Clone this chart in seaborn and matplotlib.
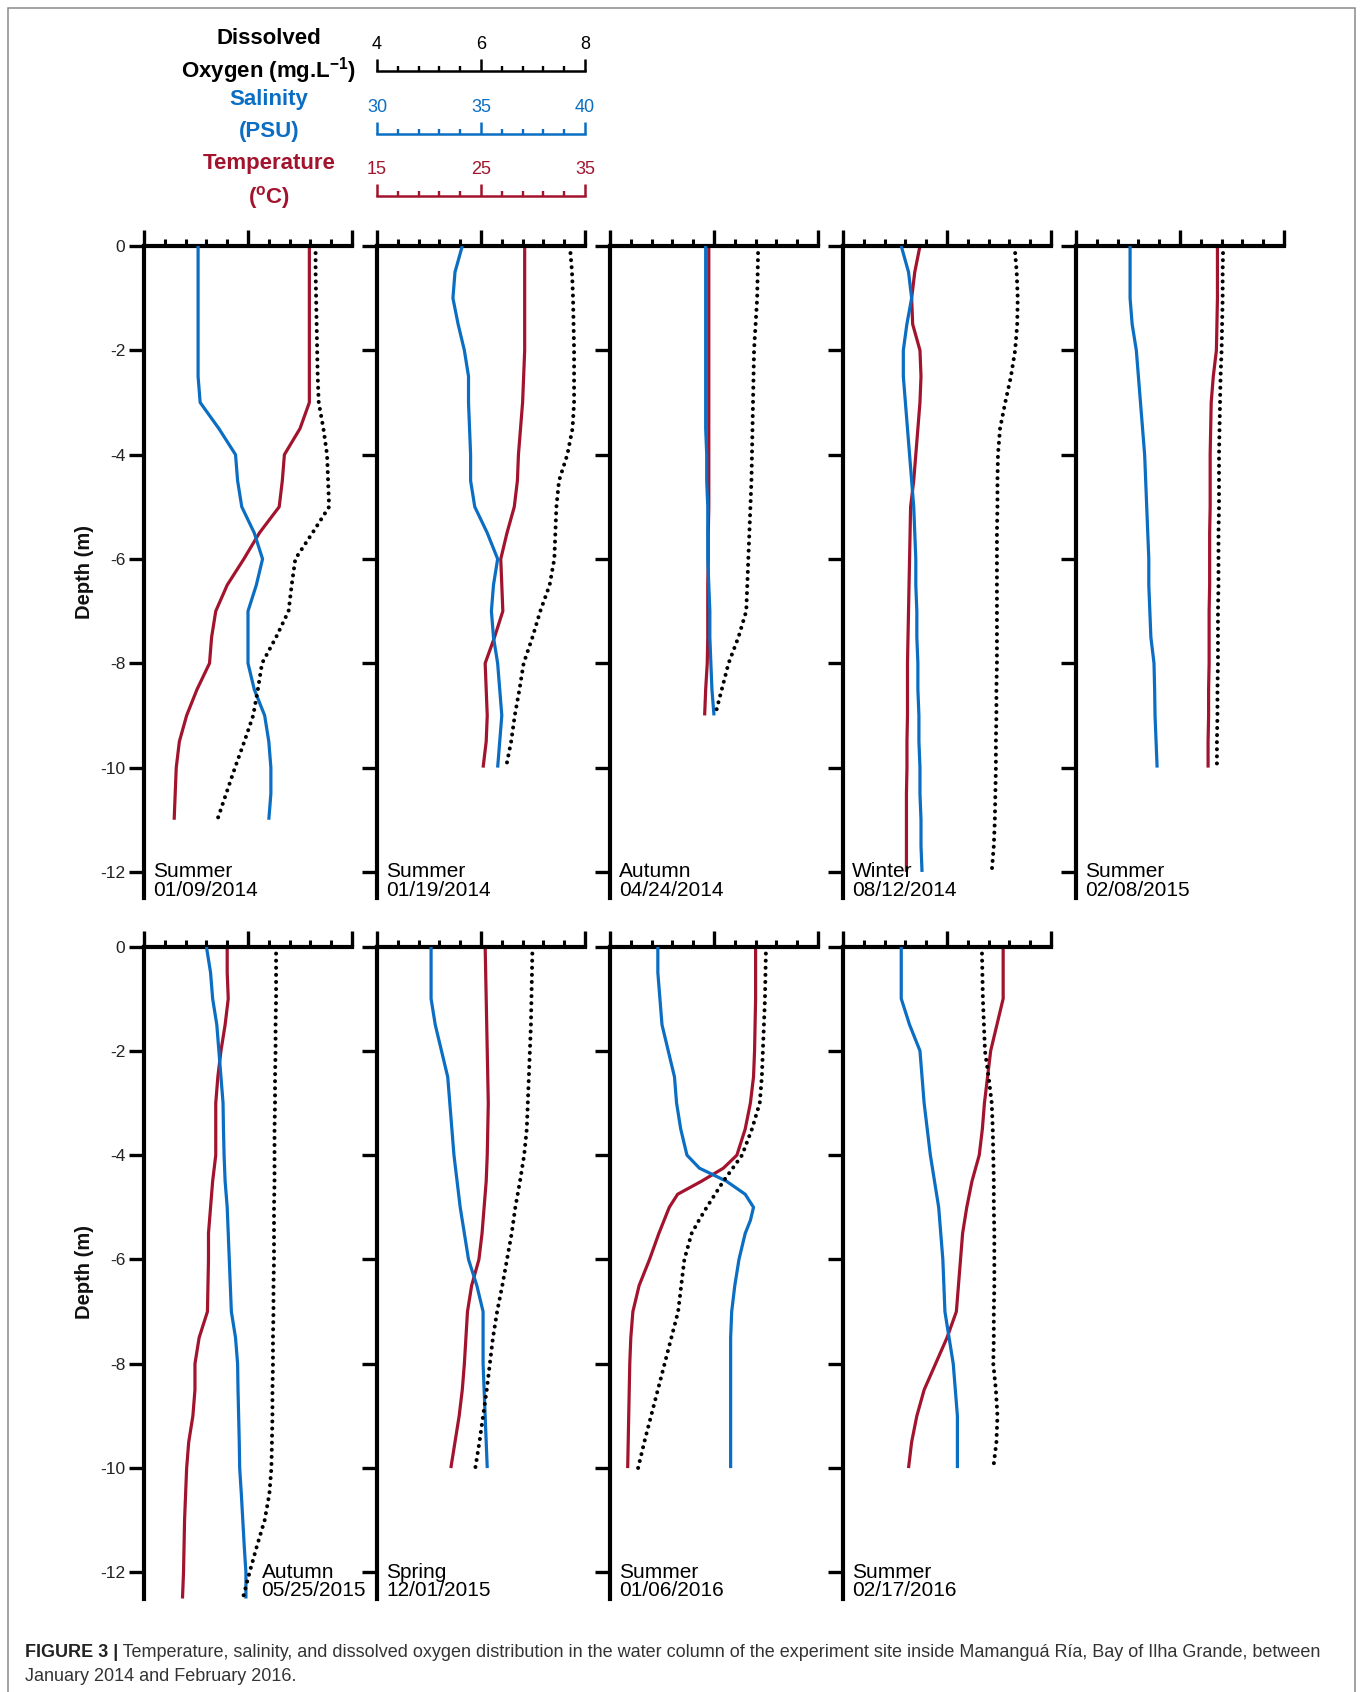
import numpy as np
import pandas as pd
import matplotlib
matplotlib.use("Agg")
import matplotlib.pyplot as plt
from matplotlib import font_manager
from matplotlib.font_manager import FontProperties
from matplotlib.patches import Rectangle
from matplotlib.ticker import FixedLocator
import seaborn as sns

# ---------------------------------------------------------------- data
SEASONS = ["Summer", "Summer", "Autumn", "Winter", "Summer",
           "Autumn", "Spring", "Summer", "Summer"]
DATES = ["01/09/2014", "01/19/2014", "04/24/2014", "08/12/2014", "02/08/2015",
         "05/25/2015", "12/01/2015", "01/06/2016", "02/17/2016"]

DEPTH_TICKS = [0, -2, -4, -6, -8, -10, -12]
DEPTH_TICK_LABELS = ["0", "-2", "-4", "-6", "-8", "-10", "-12"]

OXY_TICKS = [4, 6, 8]
SAL_TICKS = [30, 35, 40]
TEMP_TICKS = [15, 25, 35]

# Panel 1 - Summer 01/09/2014
DEPTH_1 = [0, -0.5, -1, -1.5, -2, -2.5, -3, -3.5, -4, -4.5, -5, -5.5, -6, -6.5,
           -7, -7.5, -8, -8.5, -9, -9.5, -10, -10.5, -11]
TEMP_1 = [30.9, 30.9, 30.9, 30.9, 30.9, 30.9, 30.9, 30.0, 28.5, 28.3, 28.0, 26.1,
          24.6, 23.0, 21.9, 21.5, 21.3, 20.1, 19.1, 18.4, 18.1, 18.0, 17.9]
SAL_1 = [32.6, 32.6, 32.6, 32.6, 32.6, 32.6, 32.7, 33.6, 34.4, 34.5, 34.7, 35.3,
         35.7, 35.4, 35.0, 35.0, 35.0, 35.3, 35.8, 36.0, 36.1, 36.1, 36.0]
OXY_1 = [7.30, 7.30, 7.31, 7.32, 7.33, 7.34, 7.36, 7.45, 7.52, 7.54, 7.56, 7.24,
         6.91, 6.84, 6.78, 6.54, 6.27, 6.19, 6.10, 5.93, 5.75, 5.58, 5.41]

# Panel 2 - Summer 01/19/2014
DEPTH_2 = [0, -0.5, -1, -1.5, -2, -2.5, -3, -3.5, -4, -4.5, -5, -5.5, -6, -6.5,
           -7, -7.5, -8, -8.5, -9, -9.5, -10]
TEMP_2 = [29.2, 29.2, 29.2, 29.2, 29.2, 29.1, 29.0, 28.8, 28.6, 28.5, 28.2, 27.5,
          26.9, 27.0, 27.1, 26.3, 25.4, 25.5, 25.6, 25.5, 25.2]
SAL_2 = [34.1, 33.75, 33.65, 33.9, 34.2, 34.4, 34.4, 34.45, 34.5, 34.5, 34.7, 35.3,
         35.8, 35.6, 35.5, 35.6, 35.8, 35.9, 36.0, 35.9, 35.8]
OXY_2 = [7.71, 7.75, 7.77, 7.78, 7.79, 7.79, 7.79, 7.76, 7.66, 7.50, 7.45, 7.43,
         7.41, 7.32, 7.14, 6.99, 6.82, 6.74, 6.65, 6.58, 6.48]

# Panel 3 - Autumn 04/24/2014
DEPTH_3 = [0, -0.5, -1, -1.5, -2, -2.5, -3, -3.5, -4, -4.5, -5, -5.5, -6, -6.5,
           -7, -7.5, -8, -8.5, -9]
TEMP_3 = [24.5, 24.5, 24.5, 24.5, 24.5, 24.5, 24.5, 24.5, 24.5, 24.5, 24.5, 24.45,
          24.45, 24.4, 24.4, 24.4, 24.35, 24.2, 24.1]
SAL_3 = [34.6, 34.6, 34.6, 34.6, 34.6, 34.6, 34.6, 34.6, 34.65, 34.65, 34.7, 34.7,
         34.7, 34.75, 34.8, 34.8, 34.85, 34.9, 35.0]
OXY_3 = [6.85, 6.84, 6.83, 6.80, 6.77, 6.76, 6.75, 6.74, 6.73, 6.72, 6.70, 6.68,
         6.66, 6.64, 6.62, 6.47, 6.28, 6.15, 6.02]

# Panel 4 - Winter 08/12/2014
DEPTH_4 = [0, -0.5, -1, -1.5, -2, -2.5, -3, -3.5, -4, -4.5, -5, -5.5, -6, -6.5,
           -7, -7.5, -8, -8.5, -9, -9.5, -10, -10.5, -11, -11.5, -12]
TEMP_4 = [22.4, 21.9, 21.6, 21.7, 22.4, 22.5, 22.4, 22.2, 22.0, 21.8, 21.5, 21.45,
          21.4, 21.35, 21.3, 21.25, 21.2, 21.2, 21.2, 21.15, 21.15, 21.1, 21.1,
          21.1, 21.1]
SAL_4 = [32.8, 33.15, 33.3, 33.07, 32.9, 32.9, 33.0, 33.1, 33.2, 33.3, 33.4, 33.45,
         33.5, 33.5, 33.55, 33.55, 33.6, 33.6, 33.65, 33.65, 33.7, 33.7, 33.75,
         33.75, 33.8]
OXY_4 = [7.30, 7.34, 7.36, 7.35, 7.31, 7.23, 7.12, 7.02, 6.98, 6.97, 6.97, 6.96,
         6.96, 6.96, 6.96, 6.96, 6.96, 6.95, 6.95, 6.94, 6.94, 6.93, 6.92, 6.90,
         6.86]

# Panel 5 - Summer 02/08/2015
DEPTH_5 = [0, -0.5, -1, -1.5, -2, -2.5, -3, -3.5, -4, -4.5, -5, -5.5, -6, -6.5,
           -7, -7.5, -8, -8.5, -9, -9.5, -10]
TEMP_5 = [28.6, 28.6, 28.6, 28.55, 28.5, 28.2, 28.0, 27.95, 27.9, 27.9, 27.9, 27.85,
          27.85, 27.85, 27.8, 27.8, 27.8, 27.75, 27.75, 27.7, 27.7]
SAL_5 = [32.6, 32.6, 32.6, 32.7, 32.9, 33.0, 33.1, 33.2, 33.3, 33.35, 33.4, 33.45,
         33.5, 33.5, 33.55, 33.6, 33.75, 33.78, 33.8, 33.85, 33.9]
OXY_5 = [6.83, 6.82, 6.82, 6.81, 6.80, 6.78, 6.77, 6.76, 6.75, 6.75, 6.75, 6.74,
         6.74, 6.74, 6.73, 6.73, 6.73, 6.72, 6.72, 6.71, 6.71]

# Panel 6 - Autumn 05/25/2015
DEPTH_6 = [0, -0.5, -1, -1.5, -2, -2.5, -3, -3.5, -4, -4.5, -5, -5.5, -6, -6.5,
           -7, -7.5, -8, -8.5, -9, -9.5, -10, -10.5, -11, -11.5, -12, -12.5]
TEMP_6 = [23.0, 23.0, 23.1, 22.8, 22.4, 22.1, 21.9, 21.9, 21.9, 21.6, 21.4, 21.2,
          21.2, 21.15, 21.1, 20.3, 19.9, 19.9, 19.7, 19.3, 19.1, 19.0, 18.9, 18.85,
          18.8, 18.7]
SAL_6 = [33.0, 33.2, 33.3, 33.5, 33.6, 33.7, 33.8, 33.82, 33.85, 33.9, 34.0, 34.05,
         34.1, 34.15, 34.2, 34.4, 34.5, 34.52, 34.55, 34.58, 34.6, 34.68, 34.75,
         34.82, 34.9, 34.9]
OXY_6 = [6.54, 6.54, 6.54, 6.53, 6.53, 6.52, 6.52, 6.51, 6.51, 6.51, 6.50, 6.50,
         6.50, 6.49, 6.49, 6.48, 6.48, 6.47, 6.47, 6.46, 6.45, 6.41, 6.32, 6.17,
         6.03, 5.90]

# Panel 7 - Spring 12/01/2015
DEPTH_7 = [0, -0.5, -1, -1.5, -2, -2.5, -3, -3.5, -4, -4.5, -5, -5.5, -6, -6.5,
           -7, -7.5, -8, -8.5, -9, -9.5, -10]
TEMP_7 = [25.4, 25.45, 25.5, 25.55, 25.6, 25.65, 25.7, 25.65, 25.6, 25.5, 25.3, 25.1,
          24.8, 24.1, 23.7, 23.55, 23.4, 23.2, 22.9, 22.5, 22.1]
SAL_7 = [32.6, 32.6, 32.6, 32.8, 33.1, 33.4, 33.5, 33.6, 33.7, 33.85, 34.0, 34.2,
         34.4, 34.8, 35.1, 35.1, 35.1, 35.15, 35.2, 35.25, 35.3]
OXY_7 = [6.99, 6.98, 6.97, 6.96, 6.94, 6.92, 6.90, 6.88, 6.83, 6.75, 6.66, 6.59,
         6.50, 6.41, 6.31, 6.23, 6.17, 6.11, 6.04, 5.97, 5.89]

# Panel 8 - Summer 01/06/2016
DEPTH_8 = [0, -0.5, -1, -1.5, -2, -2.5, -3, -3.5, -4, -4.25, -4.5, -4.75, -5, -5.25,
           -5.5, -6, -6.5, -7, -7.5, -8, -8.5, -9, -9.5, -10]
TEMP_8 = [29.0, 29.0, 29.0, 28.95, 28.9, 28.8, 28.5, 28.0, 27.2, 25.9, 23.8, 21.5,
          20.7, 20.2, 19.7, 18.8, 17.8, 17.2, 17.0, 16.9, 16.85, 16.8, 16.75, 16.7]
SAL_8 = [32.3, 32.3, 32.4, 32.5, 32.8, 33.1, 33.2, 33.4, 33.7, 34.3, 35.6, 36.5,
         36.9, 36.75, 36.5, 36.2, 36.0, 35.85, 35.8, 35.8, 35.8, 35.8, 35.8, 35.8]
OXY_8 = [7.00, 6.99, 6.98, 6.96, 6.94, 6.92, 6.88, 6.73, 6.54, 6.36, 6.18, 6.02,
         5.86, 5.71, 5.57, 5.43, 5.37, 5.31, 5.18, 5.05, 4.92, 4.79, 4.66, 4.54]

# Panel 9 - Summer 02/17/2016
DEPTH_9 = [0, -0.5, -1, -1.5, -2, -2.5, -3, -3.5, -4, -4.5, -5, -5.5, -6, -6.5,
           -7, -7.5, -8, -8.5, -9, -9.5, -10]
TEMP_9 = [30.4, 30.4, 30.4, 29.8, 29.2, 28.9, 28.6, 28.4, 28.1, 27.4, 26.9, 26.5,
          26.3, 26.1, 25.9, 25.0, 23.9, 22.8, 22.1, 21.6, 21.3]
SAL_9 = [32.8, 32.8, 32.8, 33.2, 33.7, 33.8, 33.9, 34.05, 34.2, 34.4, 34.6, 34.7,
         34.8, 34.85, 34.9, 35.1, 35.3, 35.4, 35.5, 35.5, 35.5]
OXY_9 = [6.67, 6.68, 6.69, 6.71, 6.73, 6.80, 6.86, 6.88, 6.89, 6.90, 6.90, 6.91,
         6.91, 6.91, 6.90, 6.90, 6.89, 6.94, 6.97, 6.95, 6.89]

DEPTHS = [DEPTH_1, DEPTH_2, DEPTH_3, DEPTH_4, DEPTH_5, DEPTH_6, DEPTH_7, DEPTH_8, DEPTH_9]
TEMPS = [TEMP_1, TEMP_2, TEMP_3, TEMP_4, TEMP_5, TEMP_6, TEMP_7, TEMP_8, TEMP_9]
SALS = [SAL_1, SAL_2, SAL_3, SAL_4, SAL_5, SAL_6, SAL_7, SAL_8, SAL_9]
OXYS = [OXY_1, OXY_2, OXY_3, OXY_4, OXY_5, OXY_6, OXY_7, OXY_8, OXY_9]

CAPTION_BOLD = "FIGURE 3 |"
CAPTION_1 = ("Temperature, salinity, and dissolved oxygen distribution in the water "
             "column of the experiment site inside Mamanguá Ría, Bay of Ilha Grande, between")
CAPTION_2 = "January 2014 and February 2016."

# ---------------------------------------------------------------- style
BLUE = "#0B6EC2"
RED = "#A2142D"
sns.set_theme(style="white")
plt.rcParams["font.family"] = ["Liberation Sans", "DejaVu Sans"]
plt.rcParams["axes.unicode_minus"] = False
plt.rcParams["mathtext.fontset"] = "custom"
plt.rcParams["mathtext.rm"] = "Liberation Sans:bold"
plt.rcParams["mathtext.default"] = "rm"


def has_font(name):
    try:
        font_manager.findfont(FontProperties(family=name), fallback_to_default=False)
        return True
    except Exception:
        return False


CAP_FAMILY = ["Liberation Sans Narrow", "Liberation Sans"] if has_font("Liberation Sans Narrow") \
    else ["Liberation Sans", "DejaVu Sans"]

W, H = 1362, 1692
fig = plt.figure(figsize=(W / 100, H / 100), dpi=100)
fig.patch.set_facecolor("white")


def fx(px):
    return px / W


def fy(px):
    return 1 - px / H


# ---------------------------------------------------------------- panels
LEFTS = [144, 377, 610, 843, 1076, 144, 377, 610, 843]
TOPS = [246] * 5 + [946.5] * 4
PW, PH = 208, 652


def draw_panel(i):
    left, top = LEFTS[i], TOPS[i]
    ax = fig.add_axes([fx(left), fy(top + PH), PW / W, PH / H])
    ax.patch.set_visible(False)
    ax_s = ax.twiny()
    ax_o = ax.twiny()
    df = pd.DataFrame({"depth": DEPTHS[i], "temp": TEMPS[i],
                       "sal": SALS[i], "oxy": OXYS[i]})
    sns.lineplot(data=df, x="oxy", y="depth", ax=ax_o, sort=False, estimator=None,
                 color="black", linewidth=2.9, legend=False)
    ln = ax_o.lines[-1]
    ln.set_linestyle((0, (0.01, 1.75)))
    ln.set_dash_capstyle("round")
    sns.lineplot(data=df, x="temp", y="depth", ax=ax, sort=False, estimator=None,
                 color=RED, linewidth=2.3, legend=False)
    ax.lines[-1].set_solid_capstyle("butt")
    ax.lines[-1].set_solid_joinstyle("round")
    sns.lineplot(data=df, x="sal", y="depth", ax=ax_s, sort=False, estimator=None,
                 color=BLUE, linewidth=2.3, legend=False)
    ax_s.lines[-1].set_solid_capstyle("butt")
    ax_s.lines[-1].set_solid_joinstyle("round")

    ax.set_xlim(15, 35)
    ax_s.set_xlim(30, 40)
    ax_o.set_xlim(4, 8)
    ax.set_ylim(-12.5, 0)
    for a in (ax_s, ax_o):
        a.set_axis_off()
    ax.set_xlabel("")
    ax.set_ylabel("")

    for sp in ("right", "bottom"):
        ax.spines[sp].set_visible(False)
    for sp in ("left", "top"):
        ax.spines[sp].set_visible(True)
        ax.spines[sp].set_linewidth(3.0)
        ax.spines[sp].set_color("black")

    ax.xaxis.set_ticks_position("top")
    ax.set_xticks(TEMP_TICKS)
    ax.xaxis.set_minor_locator(FixedLocator([17, 19, 21, 23, 27, 29, 31, 33]))
    ax.tick_params(axis="x", which="major", direction="out", length=11.5, width=2.4,
                   top=True, bottom=False, labeltop=False, labelbottom=False,
                   color="black")
    ax.tick_params(axis="x", which="minor", direction="out", length=5.2, width=2.2,
                   top=True, bottom=False, color="black")
    ax.set_yticks(DEPTH_TICKS)
    if i in (0, 5):
        ax.set_yticklabels(DEPTH_TICK_LABELS)
    else:
        ax.set_yticklabels([])
    ax.tick_params(axis="y", which="major", direction="out", length=10.5, width=2.4,
                   left=True, right=False, labelsize=12.5, pad=3,
                   color="black", labelcolor="#222222")

    tx = 0.565 if i == 5 else 0.045
    ax.text(tx, 21 / PH, SEASONS[i], transform=ax.transAxes, fontsize=15,
            va="baseline", ha="left", color="black")
    ax.text(tx, 2.5 / PH, DATES[i], transform=ax.transAxes, fontsize=15,
            va="baseline", ha="left", color="black")


for i in range(9):
    draw_panel(i)

fig.text(fx(84), fy(572), "Depth (m)", rotation=90, ha="center", va="center",
         fontsize=14.5, fontweight="bold", color="#111111")
fig.text(fx(84), fy(1272), "Depth (m)", rotation=90, ha="center", va="center",
         fontsize=14.5, fontweight="bold", color="#111111")


# ---------------------------------------------------------------- legend scales
def legend_bar(y_base, lo, hi, majors, minors, color):
    ax = fig.add_axes([fx(377), fy(y_base + 4), PW / W, 4 / H])
    ax.patch.set_visible(False)
    ax.set_xlim(lo, hi)
    ax.set_ylim(0, 1)
    for sp in ("right", "bottom", "left"):
        ax.spines[sp].set_visible(False)
    ax.spines["top"].set_linewidth(1.8)
    ax.spines["top"].set_color(color)
    ax.set_yticks([])
    ax.xaxis.set_ticks_position("top")
    ax.set_xticks(majors)
    ax.set_xticklabels([str(m) for m in majors])
    ax.xaxis.set_minor_locator(FixedLocator(minors))
    ax.tick_params(axis="x", which="major", direction="out", length=8.5, width=1.8,
                   top=True, bottom=False, labeltop=True, labelbottom=False,
                   color=color, labelcolor=color, labelsize=13, pad=4.5)
    ax.tick_params(axis="x", which="minor", direction="out", length=3.3, width=1.7,
                   top=True, bottom=False, color=color)


legend_bar(71, 4, 8, OXY_TICKS, [4.4, 4.8, 5.2, 5.6, 6.4, 6.8, 7.2, 7.6], "black")
legend_bar(134, 30, 40, SAL_TICKS, [31, 32, 33, 34, 36, 37, 38, 39], BLUE)
legend_bar(196, 15, 35, TEMP_TICKS, [17, 19, 21, 23, 27, 29, 31, 33], RED)

TITLE_X = fx(269)
fig.text(TITLE_X, fy(38), "Dissolved", ha="center", va="center", fontsize=16,
         fontweight="bold", color="black")
fig.text(TITLE_X, fy(71), r"Oxygen (mg.L$^{-1}$)", ha="center", va="center",
         fontsize=16, fontweight="bold", color="black")
fig.text(TITLE_X, fy(100), "Salinity", ha="center", va="center", fontsize=16,
         fontweight="bold", color=BLUE)
fig.text(TITLE_X, fy(131), "(PSU)", ha="center", va="center", fontsize=16,
         fontweight="bold", color=BLUE)
fig.text(TITLE_X, fy(164), "Temperature", ha="center", va="center", fontsize=16,
         fontweight="bold", color=RED)
fig.text(TITLE_X, fy(197), r"($^{\mathrm{o}}$C)", ha="center", va="center",
         fontsize=16, fontweight="bold", color=RED)

# ---------------------------------------------------------------- frame
fig.patches.append(Rectangle((fx(8), -0.01), fx(1355) - fx(8), fy(7.5) + 0.01,
                             transform=fig.transFigure, fill=False,
                             edgecolor="#8a8a8a", linewidth=1.1))

# ---------------------------------------------------------------- caption
renderer = fig.canvas.get_renderer()
cap_fs = 15.0
x0 = fx(25)
t_b = fig.text(x0, fy(1657), CAPTION_BOLD, fontsize=cap_fs, fontweight="bold",
               family=CAP_FAMILY, color="#222222", va="baseline", ha="left")
t_r = fig.text(x0, fy(1657), " " + CAPTION_1, fontsize=cap_fs, family=CAP_FAMILY,
               color="#333333", va="baseline", ha="left")
t_2 = fig.text(x0, fy(1681), CAPTION_2, fontsize=cap_fs, family=CAP_FAMILY,
               color="#333333", va="baseline", ha="left")
target = 1294.0
for _ in range(3):
    bb = t_b.get_window_extent(renderer)
    t_r.set_x(bb.x1 / W)
    bb2 = t_r.get_window_extent(renderer)
    total = bb2.x1 - bb.x0
    cap_fs *= target / total
    for t in (t_b, t_r, t_2):
        t.set_fontsize(cap_fs)
bb = t_b.get_window_extent(renderer)
t_r.set_x(bb.x1 / W)

fig.savefig("out.png", dpi=100, facecolor="white")
